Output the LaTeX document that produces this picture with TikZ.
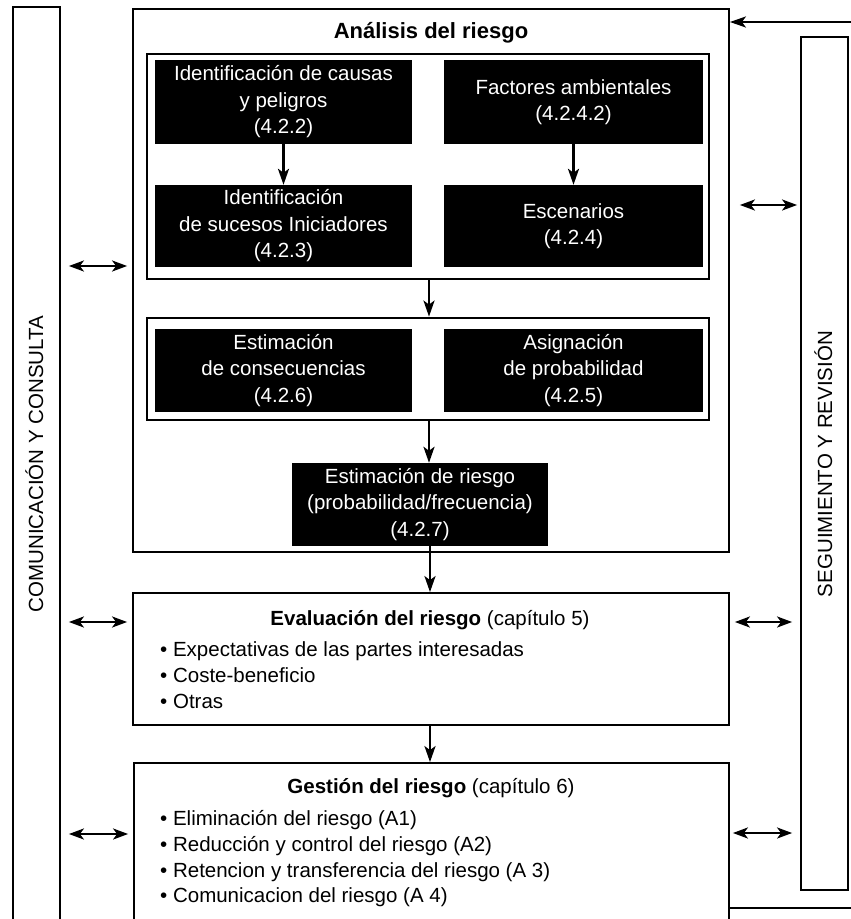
\documentclass[tikz,border=0pt]{standalone}
\usepackage{fontspec}
\setmainfont{Liberation Sans}
\usetikzlibrary{arrows.meta}
\begin{document}
\begin{tikzpicture}[x=1pt,y=-1pt,
  box/.style={draw, line width=1.8pt, inner sep=0pt},
  frm/.style={draw, line width=2.8pt, inner sep=0pt},
  blk/.style={fill=black, text=white, inner sep=0pt, align=center, font=\fontsize{20.5}{26.5}\selectfont},
  txt/.style={inner sep=0pt, font=\fontsize{20.5}{26.5}\selectfont},
  ttl/.style={inner sep=0pt, font=\fontsize{21}{26}\selectfont\bfseries},
  arr/.style={line width=2.6pt, -{Stealth[length=16pt,width=11pt,inset=4pt]}},
  dbl/.style={line width=2.2pt, {Stealth[length=15pt,width=11pt,inset=4pt]}-{Stealth[length=15pt,width=11pt,inset=4pt]}}
]
\useasboundingbox (0,0) rectangle (851,919);
\clip (0,0) rectangle (851,919);
\fill[white] (0,0) rectangle (851,919);

% side bars
\node[box, minimum width=47pt, minimum height=928pt] (L) at (36.5,471) {};
\node[box, minimum width=47pt, minimum height=853pt] (R) at (824.5,463.5) {};
\node[txt, rotate=90, anchor=base] (Lt) at (43,464) {COMUNICACIÓN Y CONSULTA};
\node[txt, rotate=90, anchor=base] (Rt) at (832,464) {SEGUIMIENTO Y REVISIÓN};

% main boxes
\node[box, minimum width=596pt, minimum height=543pt] (A) at (431,280.5) {};
\node[box, minimum width=596pt, minimum height=132pt] (E) at (431,659) {};
\node[box, minimum width=595pt, minimum height=172pt] (G) at (431.5,849) {};

\node[ttl, anchor=base, font=\fontsize{22}{26}\selectfont\bfseries] (At) at (431,38) {Análisis del riesgo};

% frames
\node[frm, minimum width=562pt, minimum height=225pt] (f1) at (428,166.5) {};
\node[frm, minimum width=562pt, minimum height=102pt] (f2) at (428,369) {};

% black boxes
\node[blk, minimum width=257pt, minimum height=84pt] (b1) at (283.5,102) {Identificación de causas\\y peligros\\(4.2.2)};
\node[blk, minimum width=257pt, minimum height=82pt] (b2) at (283.5,226) {Identificación\\de sucesos Iniciadores\\(4.2.3)};
\node[blk, minimum width=259pt, minimum height=84pt] (b3) at (573.5,102) {Factores ambientales\\(4.2.4.2)};
\node[blk, minimum width=259pt, minimum height=82pt] (b4) at (573.5,226) {Escenarios\\(4.2.4)};
\node[blk, minimum width=257pt, minimum height=83pt] (b5) at (283.5,370.5) {Estimación\\de consecuencias\\(4.2.6)};
\node[blk, minimum width=259pt, minimum height=83pt] (b6) at (573.5,370.5) {Asignación\\de probabilidad\\(4.2.5)};
\node[blk, minimum width=256pt, minimum height=83pt] (b7) at (420,504.5) {Estimación de riesgo\\(probabilidad/frecuencia)\\(4.2.7)};

% evaluation text
\node[txt, anchor=base] (Et) at (430,625) {\textbf{Evaluación del riesgo} (capítulo 5)};
\node[txt, anchor=base west] (e1) at (160,656) {• Expectativas de las partes interesadas};
\node[txt, anchor=base west] (e2) at (160,682) {• Coste-beneficio};
\node[txt, anchor=base west] (e3) at (160,708) {• Otras};

% management text
\node[txt, anchor=base] (Gt) at (431,793) {\textbf{Gestión del riesgo} (capítulo 6)};
\node[txt, anchor=base west] (g1) at (160,825) {• Eliminación del riesgo (A1)};
\node[txt, anchor=base west] (g2) at (160,851) {• Reducción y control del riesgo (A2)};
\node[txt, anchor=base west] (g3) at (160,877) {• Retencion y transferencia del riesgo (A 3)};
\node[txt, anchor=base west] (g4) at (160,902) {• Comunicacion del riesgo (A 4)};

% vertical arrows
\coordinate (ax) at (429,0);
\coordinate (bx) at (430,0);
\draw[arr] (b1) -- (b2);
\draw[arr] (b3) -- (b4);
\draw[arr] (f1.south -| ax) -- (f2.north -| ax);
\draw[arr] (f2.south -| ax) -- (b7.north -| ax);
\draw[arr] (b7.south -| bx) -- (E.north -| bx);
\draw[arr] (E.south -| bx) -- (G.north -| bx);

% double arrows left
\coordinate (l1) at (0,266);
\coordinate (l2) at (0,622);
\coordinate (l3) at (0,834);
\draw[dbl, shorten <=8pt, shorten >=5pt] (L.east |- l1) -- (A.west |- l1);
\draw[dbl, shorten <=8pt, shorten >=5pt] (L.east |- l2) -- (E.west |- l2);
\draw[dbl, shorten <=8pt, shorten >=5pt] (L.east |- l3) -- (G.west |- l3);

% double arrows right
\coordinate (r1) at (0,205);
\coordinate (r2) at (0,622);
\coordinate (r3) at (0,833);
\draw[dbl, shorten <=10pt, shorten >=3pt] (A.east |- r1) -- (R.west |- r1);
\draw[dbl, shorten <=5pt, shorten >=8pt] (E.east |- r2) -- (R.west |- r2);
\draw[dbl, shorten <=3pt, shorten >=8pt] (G.east |- r3) -- (R.west |- r3);

% top feedback arrow and bottom line
\coordinate (tr) at (851,22);
\coordinate (br) at (851,908);
\draw[line width=2.2pt, -{Stealth[length=16pt,width=11pt,inset=4pt]}] (tr) -- (A.east |- tr);
\draw[line width=2.2pt] (G.east |- br) -- (br);
\end{tikzpicture}
\end{document}
